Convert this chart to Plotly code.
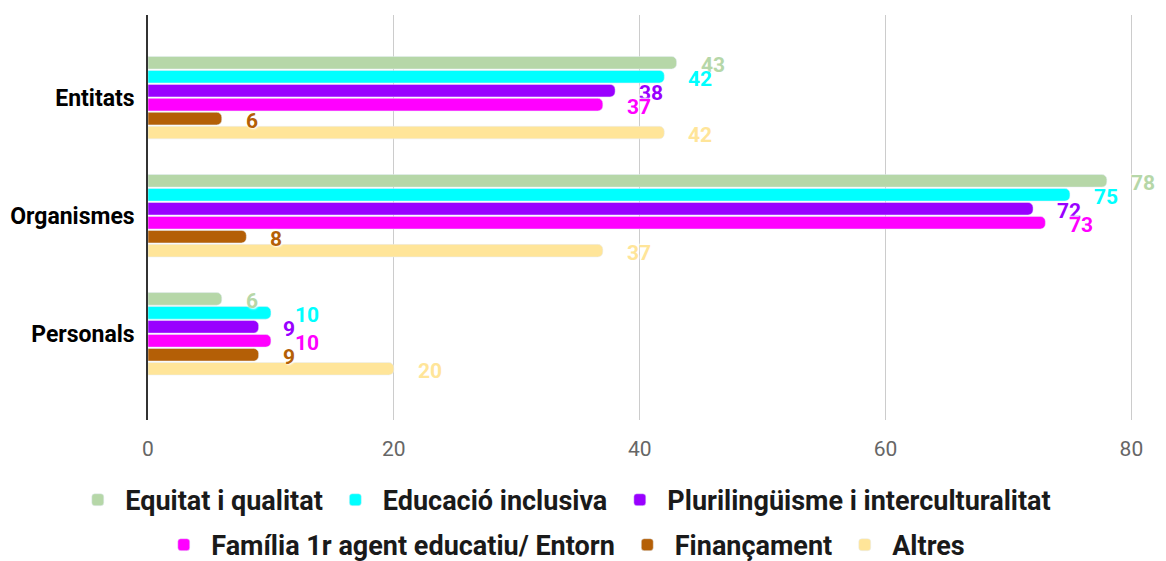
import plotly.graph_objects as go

categories = ["Entitats", "Organismes", "Personals"]
series_names = [
    "Equitat i qualitat",
    "Educació inclusiva",
    "Plurilingüisme i interculturalitat",
    "Família 1r agent educatiu/ Entorn",
    "Finançament",
    "Altres",
]
equitat = [43, 78, 6]
educacio = [42, 75, 10]
plurilinguisme = [38, 72, 9]
familia = [37, 73, 10]
financament = [6, 8, 9]
altres = [42, 37, 20]
x_ticks = [0, 20, 40, 60, 80]

series_values = [equitat, educacio, plurilinguisme, familia, financament, altres]
colors = ["#b6d7a8", "#00ffff", "#9900ff", "#ff00ff", "#b45f06", "#ffe599"]

fig = go.Figure()
for i, (name, vals, col) in enumerate(zip(series_names, series_values, colors)):
    fig.add_trace(go.Bar(
        y=categories, x=vals, name=name, orientation="h",
        marker=dict(color=col, cornerradius=5),
        legend="legend" if i < 3 else "legend2",
    ))

# value labels, offset to the right of each bar end
step = 14
for i, (vals, col) in enumerate(zip(series_values, colors)):
    for cat, v in zip(categories, vals):
        fig.add_annotation(
            x=v, y=cat, text=f"<b>{v}</b>", showarrow=False,
            xanchor="left", xshift=22, yshift=-(i - 2.5) * step - 2,
            font=dict(size=21, color=col, family="Roboto",
                      shadow="1px 1px 2px white, -1px -1px 2px white"),
        )

legend_font = dict(size=27, color="#1a1a1a", weight="bold")

fig.update_layout(
    barmode="group",
    bargap=0.29,
    bargroupgap=0.1,
    width=1150, height=553,
    margin=dict(l=140, r=2, t=7, b=141, autoexpand=False),
    paper_bgcolor="white",
    plot_bgcolor="white",
    font=dict(family="Roboto, sans-serif", color="#000000"),
    xaxis=dict(
        range=[0, 82], tickvals=x_ticks, gridcolor="#cccccc",
        tickfont=dict(size=21, color="#666666"), zeroline=False,
        showline=False, ticks="", ticklabelstandoff=14,
    ),
    yaxis=dict(
        categoryorder="array", categoryarray=categories,
        range=[2.73, -0.70], showgrid=False,
        showline=True, linecolor="#333333", linewidth=1.5,
        tickfont=dict(size=23, color="#000000", weight="bold"), ticks="",
        ticklabelstandoff=7,
    ),
    legend=dict(
        orientation="h", x=0.412, xanchor="center", itemwidth=45,
        y=-0.198, yanchor="middle", font=legend_font, traceorder="normal",
    ),
    legend2=dict(
        orientation="h", x=0.412, xanchor="center", itemwidth=45,
        y=-0.309, yanchor="middle", font=legend_font, traceorder="normal",
    ),
    showlegend=True,
)

fig.write_html("out.html")
